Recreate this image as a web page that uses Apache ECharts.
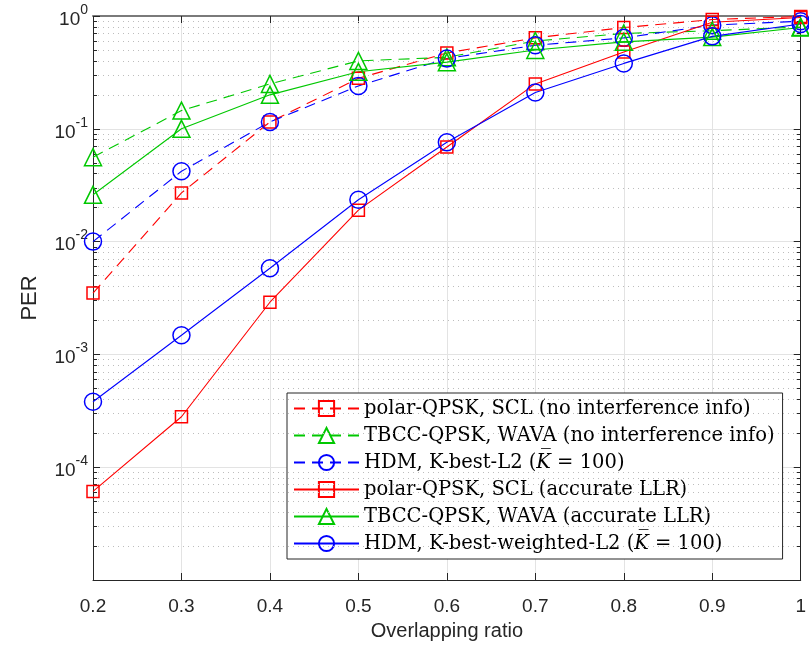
<!DOCTYPE html>
<html>
<head>
<meta charset="utf-8">
<script src="https://cdn.jsdelivr.net/npm/echarts@6/dist/echarts.min.js"></script>
<style>html,body{margin:0;padding:0;background:#fff;}#c{width:809px;height:651px;}</style>
</head>
<body>
<div id="c"></div>
<script>
const ratios = [0.2, 0.3, 0.4, 0.5, 0.6, 0.7, 0.8, 0.9, 1.0];
const polarNoInfo = [0.0035, 0.027, 0.115, 0.28, 0.47, 0.64, 0.79, 0.93, 0.99];
const tbccNoInfo  = [0.056, 0.145, 0.25, 0.40, 0.43, 0.60, 0.70, 0.74, 0.80];
const hdmNoInfo   = [0.010, 0.042, 0.115, 0.24, 0.42, 0.55, 0.64, 0.83, 0.90];
const polarLLR    = [6.1e-5, 2.8e-4, 0.0029, 0.019, 0.069, 0.25, 0.48, 0.88, 0.97];
const tbccLLR     = [0.026, 0.10, 0.20, 0.32, 0.39, 0.50, 0.59, 0.65, 0.79];
const hdmLLR      = [3.8e-4, 0.00148, 0.0058, 0.0235, 0.076, 0.21, 0.38, 0.66, 0.85];
const xTickLabels = ['0.2','0.3','0.4','0.5','0.6','0.7','0.8','0.9','1'];
const yDecades = [-5, -4, -3, -2, -1, 0];
const seriesNames = [
  'polar-QPSK, SCL (no interference info)',
  'TBCC-QPSK, WAVA (no interference info)',
  'HDM, K-best-L2 (K = 100)',
  'polar-QPSK, SCL (accurate LLR)',
  'TBCC-QPSK, WAVA (accurate LLR)',
  'HDM, K-best-weighted-L2 (K = 100)'
];

const RED = '#ff0000', GREEN = '#00c800', BLUE = '#0000ff';
const AX = '#262626';

function pairs(ys) { return ratios.map((x, i) => [x, ys[i]]); }

function mkSeries(name, ys, color, symbol, size, dashed) {
  return {
    name: name, type: 'line', data: pairs(ys),
    symbol: symbol, symbolSize: size, showSymbol: true,
    lineStyle: { color: color, width: 1.1, type: dashed ? [11, 7] : 'solid' },
    itemStyle: { color: 'rgba(255,255,255,0)', borderColor: color, borderWidth: 1.5 },
    emphasis: { disabled: true }, z: 5, animation: false, clip: false
  };
}

const minorVals = [];
yDecades.slice(0, -1).forEach(d => { for (let m = 2; m <= 9; m++) minorVals.push(m * Math.pow(10, d)); });

const gridMark = [];
minorVals.forEach(v => gridMark.push([{ coord: [0.2, v] }, { coord: [1.0, v] }]));
const tickMark = [];
minorVals.forEach(v => {
  tickMark.push([{ coord: [0.2, v] }, { coord: [0.2045, v] }]);
  tickMark.push([{ coord: [1.0, v] }, { coord: [0.9955, v] }]);
});

const supRich = {
  b: { fontSize: 19, fontFamily: 'Liberation Sans', color: AX, lineHeight: 26, verticalAlign: 'bottom' },
  s: { fontSize: 14, fontFamily: 'Liberation Sans', color: AX, lineHeight: 26, verticalAlign: 'top', padding: [0, 0, 6, 0] }
};

const LFONT = 'DejaVu Serif', LSIZE = 19.5;
const legendRich = {
  t: { fontFamily: LFONT, fontSize: LSIZE, color: '#000' },
  i: { fontFamily: LFONT, fontSize: LSIZE, fontStyle: 'italic', color: '#000' }
};

const option = {
  animation: false,
  backgroundColor: '#fff',
  grid: { left: 93, right: 3, top: 16, bottom: 71, containLabel: false },
  xAxis: [{
    type: 'value', min: 0.2, max: 1.0, interval: 0.1, position: 'bottom',
    name: 'Overlapping ratio', nameLocation: 'middle', nameGap: 41,
    nameTextStyle: { fontFamily: 'Liberation Sans', fontSize: 20, color: AX },
    axisLine: { show: true, onZero: false, lineStyle: { color: AX, width: 1 } },
    axisTick: { show: true, inside: true, length: 7, lineStyle: { color: AX } },
    axisLabel: { fontFamily: 'Liberation Sans', fontSize: 19, color: AX, margin: 17,
      formatter: v => xTickLabels[Math.round((v - 0.2) * 10)] },
    splitLine: { show: true, lineStyle: { color: '#e3e3e3', width: 1 } }
  }, {
    type: 'value', min: 0.2, max: 1.0, interval: 0.1, position: 'top',
    axisLine: { show: true, onZero: false, lineStyle: { color: '#7a7a7a', width: 2 } },
    axisTick: { show: true, inside: true, length: 7, lineStyle: { color: AX } },
    axisLabel: { show: false }, splitLine: { show: false }
  }],
  yAxis: [{
    type: 'log', logBase: 10, min: 1e-5, max: 1, position: 'left',
    name: 'PER', nameLocation: 'middle', nameGap: 52, nameRotate: 90,
    nameTextStyle: { fontFamily: 'Liberation Sans', fontSize: 22, color: AX },
    axisLine: { show: true, onZero: false, lineStyle: { color: AX, width: 1 } },
    axisTick: { show: true, inside: true, length: 7, lineStyle: { color: AX } },
    axisLabel: {
      margin: 5, rich: supRich,
      formatter: v => {
        const e = Math.round(Math.log10(v));
        if (e <= -5) return '';
        return '{b|10}{s|' + e + '}';
      }
    },
    splitLine: { show: true, lineStyle: { color: '#e3e3e3', width: 1 } }
  }, {
    type: 'log', logBase: 10, min: 1e-5, max: 1, position: 'right',
    axisLine: { show: true, onZero: false, lineStyle: { color: AX, width: 1 } },
    axisTick: { show: true, inside: true, length: 7, lineStyle: { color: AX } },
    axisLabel: { show: false }, splitLine: { show: false }
  }],
  legend: {
    orient: 'vertical', left: 287, top: 393,
    data: seriesNames,
    backgroundColor: '#fff', borderColor: AX, borderWidth: 1,
    padding: [5, 8, 5, 6], itemGap: 6, itemWidth: 65, itemHeight: 19,
    selectedMode: false,
    textStyle: { rich: legendRich, fontFamily: LFONT, fontSize: LSIZE, lineHeight: 21 },
    formatter: name => {
      if (name.indexOf('K = 100') >= 0) {
        const pre = name.replace(' (K = 100)', '');
        return '{t|' + pre + ' (}{i|K\u0305}{t| = 100)}';
      }
      return '{t|' + name + '}';
    }
  },
  series: [
    {
      name: 'minorgrid', type: 'line', data: [], silent: true, animation: false,
      markLine: { silent: true, symbol: ['none', 'none'], label: { show: false },
        lineStyle: { type: [1, 4], color: '#bdbdbd', width: 1 }, emphasis: { disabled: true }, data: gridMark }, z: 1
    },
    {
      name: 'minorticks', type: 'line', data: [], silent: true, animation: false,
      markLine: { silent: true, symbol: ['none', 'none'], label: { show: false },
        lineStyle: { type: 'solid', color: AX, width: 1 }, emphasis: { disabled: true }, data: tickMark }, z: 2
    },
    mkSeries(seriesNames[0], polarNoInfo, RED, 'rect', 12, true),
    mkSeries(seriesNames[1], tbccNoInfo, GREEN, 'triangle', 17, true),
    mkSeries(seriesNames[2], hdmNoInfo, BLUE, 'circle', 17, true),
    mkSeries(seriesNames[3], polarLLR, RED, 'rect', 12, false),
    mkSeries(seriesNames[4], tbccLLR, GREEN, 'triangle', 17, false),
    mkSeries(seriesNames[5], hdmLLR, BLUE, 'circle', 17, false)
  ]
};

const chart = echarts.init(document.getElementById('c'), null, { renderer: 'canvas' });
chart.setOption(option);
</script>
</body>
</html>
